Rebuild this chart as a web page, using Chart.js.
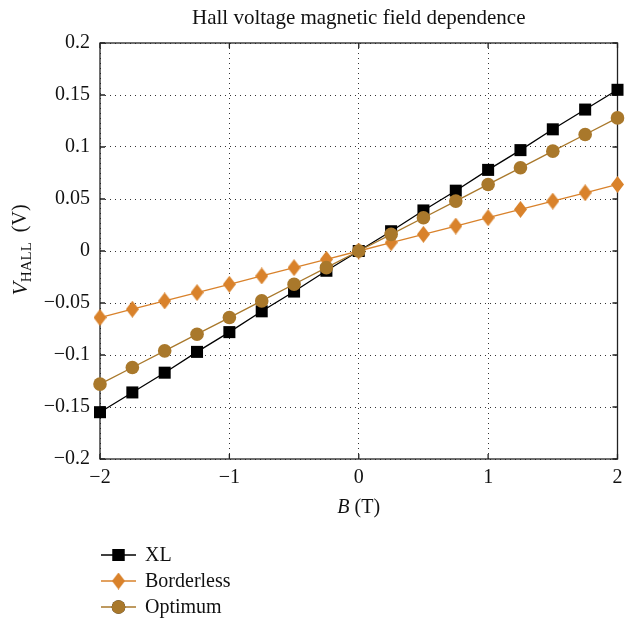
<!DOCTYPE html>
<html>
<head>
<meta charset="utf-8">
<title>Hall voltage magnetic field dependence</title>
<script src="https://cdn.jsdelivr.net/npm/chart.js@4/dist/chart.umd.min.js"></script>
<style>
  html, body { margin: 0; padding: 0; background: #fff; }
  #wrap { width: 626px; height: 626px; }
</style>
</head>
<body>
<div id="wrap"><canvas id="hallChart" width="626" height="626"></canvas></div>
<script>
// magnetic field B (T)
const fieldB = [-2, -1.75, -1.5, -1.25, -1, -0.75, -0.5, -0.25, 0, 0.25, 0.5, 0.75, 1, 1.25, 1.5, 1.75, 2];
// Hall voltage (V) per sample
const xlVolts = [-0.155, -0.136, -0.117, -0.097, -0.078, -0.058, -0.039, -0.019, 0, 0.019, 0.039, 0.058, 0.078, 0.097, 0.117, 0.136, 0.155];
const borderlessVolts = [-0.064, -0.056, -0.048, -0.040, -0.032, -0.024, -0.016, -0.008, 0, 0.008, 0.016, 0.024, 0.032, 0.040, 0.048, 0.056, 0.064];
const optimumVolts = [-0.128, -0.112, -0.096, -0.080, -0.064, -0.048, -0.032, -0.016, 0, 0.016, 0.032, 0.048, 0.064, 0.080, 0.096, 0.112, 0.128];
const seriesNames = ['XL', 'Borderless', 'Optimum'];
const xTicks = [-2, -1, 0, 1, 2];
const yTicks = [-0.2, -0.15, -0.1, -0.05, 0, 0.05, 0.1, 0.15, 0.2];

const SERIF = '"Liberation Serif", "DejaVu Serif", serif';
const BLACK = '#000000';
const ORANGE = '#d9822b';
const BROWN = '#a9782b';

// tall diamond marker
function diamond(w, h, color) {
  const c = document.createElement('canvas');
  c.width = w; c.height = h;
  const g = c.getContext('2d');
  g.fillStyle = color;
  g.beginPath();
  g.moveTo(w / 2, 0);
  g.lineTo(w, h / 2);
  g.lineTo(w / 2, h);
  g.lineTo(0, h / 2);
  g.closePath();
  g.fill();
  return c;
}
const diamondImg = diamond(13, 17, ORANGE);

const pts = ys => fieldB.map((x, i) => ({ x, y: ys[i] }));
const minus = v => String(v).replace('-', '\u2212');

// frame, inward ticks, axis titles and the legend
const decor = {
  id: 'decor',
  beforeDatasetsDraw(chart) {
    const { ctx, chartArea: a, scales: { x, y } } = chart;
    ctx.save();
    ctx.strokeStyle = '#222';
    ctx.lineWidth = 1.3;
    ctx.strokeRect(a.left, a.top, a.right - a.left, a.bottom - a.top);
    ctx.beginPath();
    xTicks.forEach(v => {
      const px = x.getPixelForValue(v);
      ctx.moveTo(px, a.bottom); ctx.lineTo(px, a.bottom - 5);
      ctx.moveTo(px, a.top); ctx.lineTo(px, a.top + 5);
    });
    yTicks.forEach(v => {
      const py = y.getPixelForValue(v);
      ctx.moveTo(a.left, py); ctx.lineTo(a.left + 5, py);
      ctx.moveTo(a.right, py); ctx.lineTo(a.right - 5, py);
    });
    ctx.stroke();
    ctx.restore();
  },
  afterDraw(chart) {
    const { ctx, chartArea: a } = chart;
    ctx.save();
    ctx.fillStyle = '#111';
    ctx.textBaseline = 'middle';

    // title
    ctx.font = '21px ' + SERIF;
    ctx.textAlign = 'center';
    ctx.fillText('Hall voltage magnetic field dependence', (a.left + a.right) / 2, 18);

    // x axis title: B (T)
    const cx = (a.left + a.right) / 2;
    ctx.font = 'italic 20px ' + SERIF;
    const bw = ctx.measureText('B').width;
    ctx.font = '20px ' + SERIF;
    const tw = ctx.measureText(' (T)').width;
    let sx = cx - (bw + tw) / 2;
    ctx.textAlign = 'left';
    ctx.font = 'italic 20px ' + SERIF;
    ctx.fillText('B', sx, 508);
    ctx.font = '20px ' + SERIF;
    ctx.fillText(' (T)', sx + bw, 508);

    // y axis title: V_HALL (V)
    ctx.save();
    ctx.translate(21, (a.top + a.bottom) / 2 - 1);
    ctx.rotate(-Math.PI / 2);
    ctx.font = 'italic 22px ' + SERIF;
    const vw = ctx.measureText('V').width;
    ctx.font = '15px ' + SERIF;
    const hw = ctx.measureText('HALL').width;
    ctx.font = '20px ' + SERIF;
    const uw = ctx.measureText('  (V)').width;
    let ox = -(vw + hw + uw) / 2;
    ctx.textAlign = 'left';
    ctx.font = 'italic 22px ' + SERIF;
    ctx.fillText('V', ox, 0);
    ctx.font = '15px ' + SERIF;
    ctx.fillText('HALL', ox + vw, 6);
    ctx.font = '20px ' + SERIF;
    ctx.fillText('  (V)', ox + vw + hw, 0);
    ctx.restore();

    // legend
    const rows = [555, 581, 607];
    chart.data.datasets.forEach((ds, i) => {
      const ly = rows[i];
      ctx.strokeStyle = ds.borderColor;
      ctx.lineWidth = 1.3;
      ctx.beginPath();
      ctx.moveTo(101, ly); ctx.lineTo(136, ly);
      ctx.stroke();
      const ps = ds.pointStyle;
      if (ps instanceof HTMLCanvasElement) {
        ctx.drawImage(ps, 118.5 - ps.width / 2, ly - ps.height / 2);
      } else {
        Chart.helpers.drawPoint(ctx, { pointStyle: ps, radius: ds.pointRadius, borderWidth: 0 }, 118.5, ly);
        ctx.fillStyle = ds.pointBackgroundColor;
        ctx.fill();
      }
      ctx.fillStyle = '#111';
      ctx.font = '20px ' + SERIF;
      ctx.textAlign = 'left';
      ctx.fillText(ds.label, 145, ly + 1);
    });
    ctx.restore();
  }
};

const gridCommon = { color: '#333', lineWidth: 1, drawTicks: false };

new Chart(document.getElementById('hallChart'), {
  type: 'line',
  data: {
    datasets: [
      { label: seriesNames[0], data: pts(xlVolts), borderColor: BLACK, backgroundColor: BLACK,
        pointBackgroundColor: BLACK, pointStyle: 'rect', pointRadius: 8.5, order: 3 },
      { label: seriesNames[1], data: pts(borderlessVolts), borderColor: ORANGE, backgroundColor: ORANGE,
        pointBackgroundColor: ORANGE, pointStyle: diamondImg, pointRadius: 8, order: 2 },
      { label: seriesNames[2], data: pts(optimumVolts), borderColor: BROWN, backgroundColor: BROWN,
        pointBackgroundColor: BROWN, pointStyle: 'circle', pointRadius: 6.8, order: 1 }
    ].map(d => Object.assign(d, { borderWidth: 1.3, pointBorderWidth: 0, tension: 0, clip: false }))
  },
  plugins: [decor],
  options: {
    responsive: false,
    animation: false,
    events: [],
    layout: { padding: { left: 0, right: 7, top: 43, bottom: 0 } },
    plugins: { legend: { display: false }, title: { display: false }, tooltip: { enabled: false } },
    scales: {
      x: {
        type: 'linear', min: -2, max: 2,
        afterFit: s => { s.height = 167; s.paddingLeft = 0; s.paddingRight = 0; },
        afterBuildTicks: s => { s.ticks = xTicks.map(v => ({ value: v })); },
        grid: gridCommon,
        border: { display: false, dash: [1, 4] },
        ticks: { padding: 7, color: '#111', font: { family: SERIF, size: 20 }, callback: v => minus(v) }
      },
      y: {
        min: -0.2, max: 0.2,
        afterFit: s => { s.width = 100; s.paddingTop = 0; s.paddingBottom = 0; },
        afterBuildTicks: s => { s.ticks = yTicks.map(v => ({ value: v })); },
        grid: gridCommon,
        border: { display: false, dash: [1, 4] },
        ticks: { padding: 10, color: '#111', font: { family: SERIF, size: 20 }, callback: v => minus(v) }
      }
    }
  }
});
</script>
</body>
</html>
